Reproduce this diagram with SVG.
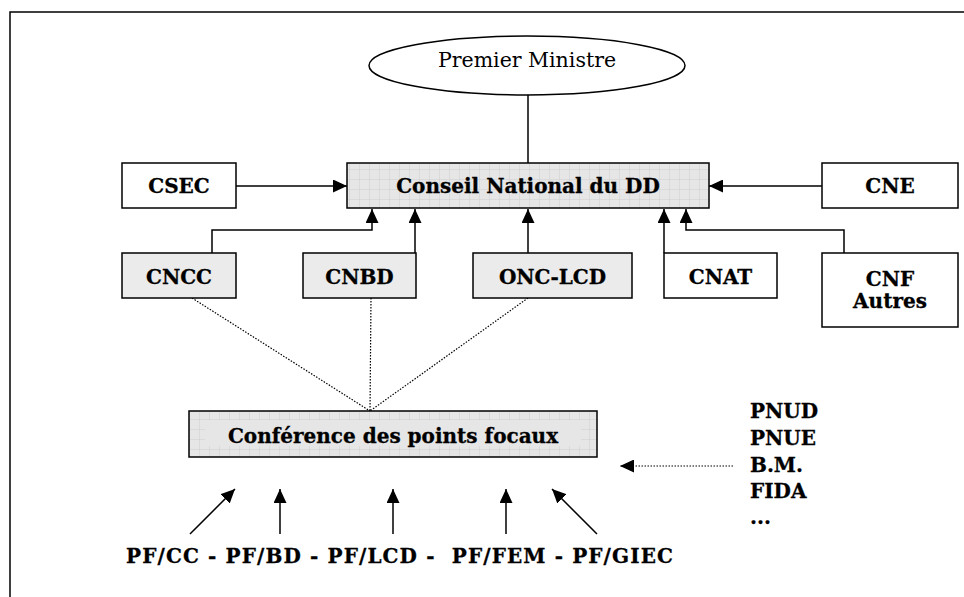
<svg xmlns="http://www.w3.org/2000/svg" width="964" height="597" viewBox="0 0 964 597">
<style>
.t{font-family:"DejaVu Serif","Liberation Serif",serif;font-weight:bold;font-size:20px;fill:#000;stroke:#000;stroke-width:0.3;text-anchor:middle}
.box{stroke:#000;stroke-width:1.5}
.w{fill:#fff}
.g{fill:#ebebeb}
.c{fill:none;stroke:#000;stroke-width:1.5}
.d{fill:none;stroke:#000;stroke-width:1.2;stroke-dasharray:1.5 1.5}
</style>
<defs>
<pattern id="grid" width="10" height="10" patternUnits="userSpaceOnUse">
<rect width="10" height="10" fill="#e6e6e6"/>
<path d="M10 0V10M0 10H10" stroke="#cfcfcf" stroke-width="1"/>
</pattern>
<marker id="ah" markerUnits="userSpaceOnUse" markerWidth="14" markerHeight="13" refX="14" refY="6.5" orient="auto">
<path d="M0,0L14,6.5L0,13z" fill="#000"/>
</marker>
</defs>
<rect x="0" y="0" width="964" height="597" fill="#fff"/>
<rect x="10" y="12" width="1000" height="1000" fill="none" stroke="#000" stroke-width="1.5"/>

<g id="connectors">
<line class="c" x1="528" y1="95" x2="528" y2="163"/>
<line class="c" x1="236" y1="186" x2="347" y2="186" marker-end="url(#ah)"/>
<line class="c" x1="822" y1="186" x2="709" y2="186" marker-end="url(#ah)"/>
<polyline class="c" points="212,253 212,230 372,230 372,209" marker-end="url(#ah)"/>
<line class="c" x1="415" y1="253" x2="415" y2="209" marker-end="url(#ah)"/>
<line class="c" x1="528" y1="253" x2="528" y2="209" marker-end="url(#ah)"/>
<line class="c" x1="664" y1="253" x2="664" y2="209" marker-end="url(#ah)"/>
<polyline class="c" points="844,253 844,230 686,230 686,209" marker-end="url(#ah)"/>
<line class="d" x1="192" y1="298" x2="370" y2="411"/>
<line class="d" x1="371" y1="298" x2="370" y2="411"/>
<line class="d" x1="528" y1="298" x2="370" y2="411"/>
<line class="d" x1="733" y1="466" x2="620" y2="466" marker-end="url(#ah)"/>
<line class="c" x1="190" y1="534" x2="235" y2="489" marker-end="url(#ah)"/>
<line class="c" x1="280" y1="534" x2="280" y2="489" marker-end="url(#ah)"/>
<line class="c" x1="393" y1="534" x2="393" y2="489" marker-end="url(#ah)"/>
<line class="c" x1="506" y1="534" x2="506" y2="489" marker-end="url(#ah)"/>
<line class="c" x1="597" y1="534" x2="552" y2="489" marker-end="url(#ah)"/>
</g>

<g id="premier-ministre">
<ellipse cx="527" cy="65.5" rx="158" ry="29.5" fill="#fff" stroke="#000" stroke-width="1.5"/>
<text x="527" y="67" style="font-family:'DejaVu Serif','Liberation Serif',serif;font-size:20.5px;text-anchor:middle">Premier Ministre</text>
</g>
<g id="conseil">
<rect class="box" x="347" y="163" width="362" height="45" fill="url(#grid)"/>
<text class="t" x="528" y="193">Conseil National du DD</text>
</g>
<g id="csec">
<rect class="box w" x="122" y="163" width="114" height="45"/>
<text class="t" x="179" y="193">CSEC</text>
</g>
<g id="cne">
<rect class="box w" x="822" y="163" width="136" height="45"/>
<text class="t" x="890" y="193">CNE</text>
</g>
<g id="cncc">
<rect class="box g" x="122" y="253" width="114" height="45"/>
<text class="t" x="179" y="284">CNCC</text>
</g>
<g id="cnbd">
<rect class="box g" x="303" y="253" width="113" height="45"/>
<text class="t" x="359.5" y="284">CNBD</text>
</g>
<g id="onc-lcd">
<rect class="box g" x="473" y="253" width="159" height="45"/>
<text class="t" x="552.5" y="284">ONC-LCD</text>
</g>
<g id="cnat">
<rect class="box w" x="664" y="253" width="113" height="45"/>
<text class="t" x="720.5" y="284">CNAT</text>
</g>
<g id="cnf">
<rect class="box w" x="822" y="253" width="136" height="74"/>
<text class="t" x="890" y="286">CNF</text>
<text class="t" x="890" y="308">Autres</text>
</g>
<g id="conference">
<rect class="box" x="189" y="411" width="408" height="46" fill="url(#grid)"/>
<rect x="205" y="420" width="376" height="26" fill="#e6e6e6"/>
<text class="t" x="393" y="443">Conférence des points focaux</text>
</g>
<g id="bailleurs">
<text class="t" style="text-anchor:start" x="750" y="418">PNUD</text>
<text class="t" style="text-anchor:start" x="750" y="445">PNUE</text>
<text class="t" style="text-anchor:start" x="750" y="472">B.M.</text>
<text class="t" style="text-anchor:start" x="750" y="498">FIDA</text>
<text class="t" style="text-anchor:start" x="750" y="524">...</text>
</g>
<g id="points-focaux">
<text class="t" style="text-anchor:start" x="126" y="563" textLength="547" lengthAdjust="spacing" xml:space="preserve">PF/CC - PF/BD - PF/LCD -  PF/FEM - PF/GIEC</text>
</g>
</svg>
